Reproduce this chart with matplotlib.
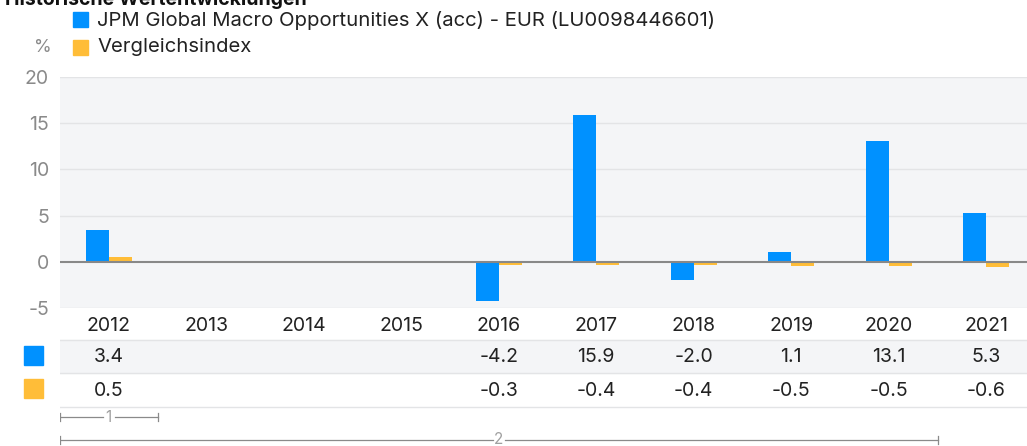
import numpy as np
import matplotlib
matplotlib.use("Agg")
import matplotlib.pyplot as plt
from matplotlib.patches import Rectangle

plt.rcParams['font.family'] = ['Inter', 'DejaVu Sans']

years = ['2012', '2013', '2014', '2015', '2016', '2017', '2018', '2019', '2020', '2021']
fund = [3.4, np.nan, np.nan, np.nan, -4.2, 15.9, -2.0, 1.1, 13.1, 5.3]
bench = [0.5, np.nan, np.nan, np.nan, -0.3, -0.4, -0.4, -0.5, -0.5, -0.6]
fund_name = 'JPM Global Macro Opportunities X (acc) - EUR (LU0098446601)'
bench_name = 'Vergleichsindex'
title = 'Historische Wertentwicklungen'

BLUE = '#0091ff'
ORANGE = '#ffbd38'
BG = '#f4f5f7'
GRID = '#e3e4e6'
TICK = '#8a8a8a'
TXT = '#222222'

W, H = 1027, 446
fig = plt.figure(figsize=(W / 100, H / 100), dpi=100)

def px_axes(x0, y0, x1, y1):
    # pixel box (top-left origin) -> figure axes
    return fig.add_axes([x0 / W, 1 - y1 / H, (x1 - x0) / W, (y1 - y0) / H])

x = np.arange(len(years))
bw = 0.236

ax = px_axes(60, 77, 1035, 308)
ax.set_facecolor(BG)
ax.bar(x - bw / 2, fund, bw, color=BLUE, zorder=3)
ax.bar(x + bw / 2, bench, bw, color=ORANGE, zorder=3)
ax.set_xlim(-0.5, len(years) - 0.5)
ax.set_ylim(-5, 20)
ax.set_yticks([-5, 0, 5, 10, 15, 20])
ax.set_yticklabels(['-5', '0', '5', '10', '15', '20'])
for v in [-5, 5, 10, 15, 20]:
    ax.axhline(v, color=GRID, lw=1, zorder=1)
ax.axhline(0, color='#888888', lw=1.5, zorder=4)
ax.set_xticks([])
ax.tick_params(axis='y', length=0, pad=8, labelsize=14, labelcolor=TICK)
for s in ax.spines.values():
    s.set_visible(False)

# table and brackets below the chart
tb = px_axes(60, 308, 1035, 446)
tb.set_xlim(-0.5, len(years) - 0.5)
tb.set_ylim(446, 308)
tb.axis('off')
tb.add_patch(Rectangle((-0.5, 340), len(years), 33, color=BG, zorder=0))
for yy in [340, 373, 407]:
    tb.axhline(yy, color=GRID, lw=1)
for i, yr in enumerate(years):
    tb.text(i, 326, yr, ha='center', va='center', fontsize=14, color=TXT)
    if not np.isnan(fund[i]):
        tb.text(i, 357, f'{fund[i]:.1f}', ha='center', va='center', fontsize=14, color=TXT)
    if not np.isnan(bench[i]):
        tb.text(i, 391, f'{bench[i]:.1f}', ha='center', va='center', fontsize=14, color=TXT)

def bracket(x0, x1, y, label):
    xm = (x0 + x1) / 2
    gap = 0.06
    tb.plot([x0, xm - gap], [y, y], color='#8a8a8a', lw=0.9)
    tb.plot([xm + gap, x1], [y, y], color='#8a8a8a', lw=0.9)
    tb.plot([x0, x0], [y - 4, y + 4], color='#8a8a8a', lw=0.9)
    tb.plot([x1, x1], [y - 4, y + 4], color='#8a8a8a', lw=0.9)
    tb.text(xm, y, label, ha='center', va='center', fontsize=11, color='#a0a0a0')

bracket(-0.5, 0.5, 417, '1')
bracket(-0.5, 8.5, 440, '2')

# row markers for the table
fig.patches.append(Rectangle((24 / W, 1 - 365 / H), 19 / W, 19 / H, color=BLUE, transform=fig.transFigure))
fig.patches.append(Rectangle((24 / W, 1 - 398 / H), 19 / W, 19 / H, color=ORANGE, transform=fig.transFigure))

# header legend
fig.patches.append(Rectangle((73 / W, 1 - 27 / H), 15 / W, 15 / H, color=BLUE, transform=fig.transFigure))
fig.patches.append(Rectangle((73 / W, 1 - 55 / H), 15 / W, 15 / H, color=ORANGE, transform=fig.transFigure))
fig.text(97 / W, 1 - 20 / H, fund_name, ha='left', va='center', fontsize=14.6, color=TXT)
fig.text(97 / W, 1 - 47 / H, bench_name, ha='left', va='center', fontsize=14.6, color=TXT)
fig.text(52 / W, 1 - 48 / H, '%', ha='right', va='center', fontsize=13, color=TICK)
fig.text(5 / W, 1 + 1 / H, title, ha='left', va='center', fontsize=14, fontweight='bold', color='#111111')

fig.savefig('out.png', dpi=100)
